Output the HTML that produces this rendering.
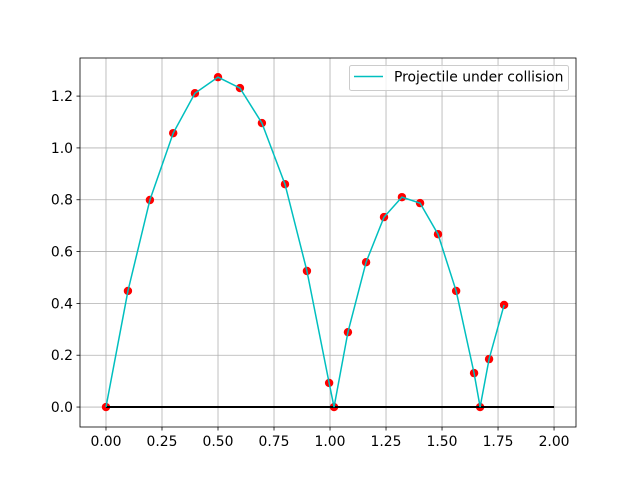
<!DOCTYPE html>
<html><head><meta charset="utf-8"><style>
body{margin:0;background:#fff}
svg{display:block;font-family:"DejaVu Sans","Liberation Sans",sans-serif}
</style></head><body>
<svg id="chart" width="640" height="480"></svg>
<script>
const xs=[0,0.098,0.196,0.30,0.397,0.5,0.598,0.696,0.799,0.897,0.996,1.018,1.080,1.161,1.241,1.321,1.402,1.482,1.563,1.643,1.670,1.710,1.777];
const ys=[0,0.448,0.799,1.057,1.211,1.273,1.231,1.096,0.860,0.525,0.093,0,0.289,0.559,0.733,0.810,0.787,0.667,0.448,0.131,0,0.185,0.394];
const xTicks=[0,0.25,0.5,0.75,1.0,1.25,1.5,1.75,2.0];
const xTickLabels=["0.00","0.25","0.50","0.75","1.00","1.25","1.50","1.75","2.00"];
const yTicks=[0,0.2,0.4,0.6,0.8,1.0,1.2];
const yTickLabels=["0.0","0.2","0.4","0.6","0.8","1.0","1.2"];
const groundX=[0,2];
const L=80,R=576,T=58,B=427;
const X0=-0.116,X1=2.098,Y0=-0.077,Y1=1.347;
const sx=v=>L+(v-X0)/(X1-X0)*(R-L);
const sy=v=>B-(v-Y0)/(Y1-Y0)*(B-T);
const svg=document.getElementById('chart');
const NS='http://www.w3.org/2000/svg';
function mk(tag,attrs,name,parent){const e=document.createElementNS(NS,tag);for(const k in attrs)e.setAttribute(k,attrs[k]);


(parent||svg).appendChild(e);return e;}
xTicks.forEach((t,i)=>{const x=sx(t);
mk('line',{x1:x,x2:x,y1:T,y2:B,stroke:'#b0b0b0','stroke-width':0.8},'x-grid-line');
mk('line',{x1:x,x2:x,y1:B,y2:B+3.5,stroke:'#000','stroke-width':0.8},'x-tick');
const t2=mk('text',{x:x,y:B+19,'text-anchor':'middle','font-size':13.9},'x-tick-label');t2.textContent=xTickLabels[i];});
yTicks.forEach((t,i)=>{const y=sy(t);
mk('line',{x1:L,x2:R,y1:y,y2:y,stroke:'#b0b0b0','stroke-width':0.8},'y-grid-line');
mk('line',{x1:L-3.5,x2:L,y1:y,y2:y,stroke:'#000','stroke-width':0.8},'y-tick');
const t2=mk('text',{x:L-7,y:y+5,'text-anchor':'end','font-size':13.9},'y-tick-label');t2.textContent=yTickLabels[i];});
xs.forEach((x,i)=>mk('circle',{cx:sx(x),cy:sy(ys[i]),r:4.2,fill:'#ff0000'},'trajectory-point'));
mk('line',{x1:sx(groundX[0]),x2:sx(groundX[1]),y1:sy(0),y2:sy(0),stroke:'#000','stroke-width':2},'ground-line');
mk('polyline',{points:xs.map((x,i)=>sx(x)+','+sy(ys[i])).join(' '),fill:'none',stroke:'#00bfbf','stroke-width':1.5},'trajectory-line');
mk('rect',{x:L,y:T,width:R-L,height:B-T,fill:'none',stroke:'#000','stroke-width':0.8},'plot-frame');
const lg=mk('g',{},'legend');
mk('rect',{x:349.5,y:65.5,width:219,height:25,rx:2,fill:'#fff','fill-opacity':0.8,stroke:'#ccc'},'legend-box',lg);
mk('line',{x1:354,x2:383,y1:76.5,y2:76.5,stroke:'#00bfbf','stroke-width':1.5},'legend-swatch',lg);
const lt=mk('text',{x:394,y:81.5,'font-size':13.9},'legend-label',lg);lt.textContent='Projectile under collision';
</script>
</body></html>
